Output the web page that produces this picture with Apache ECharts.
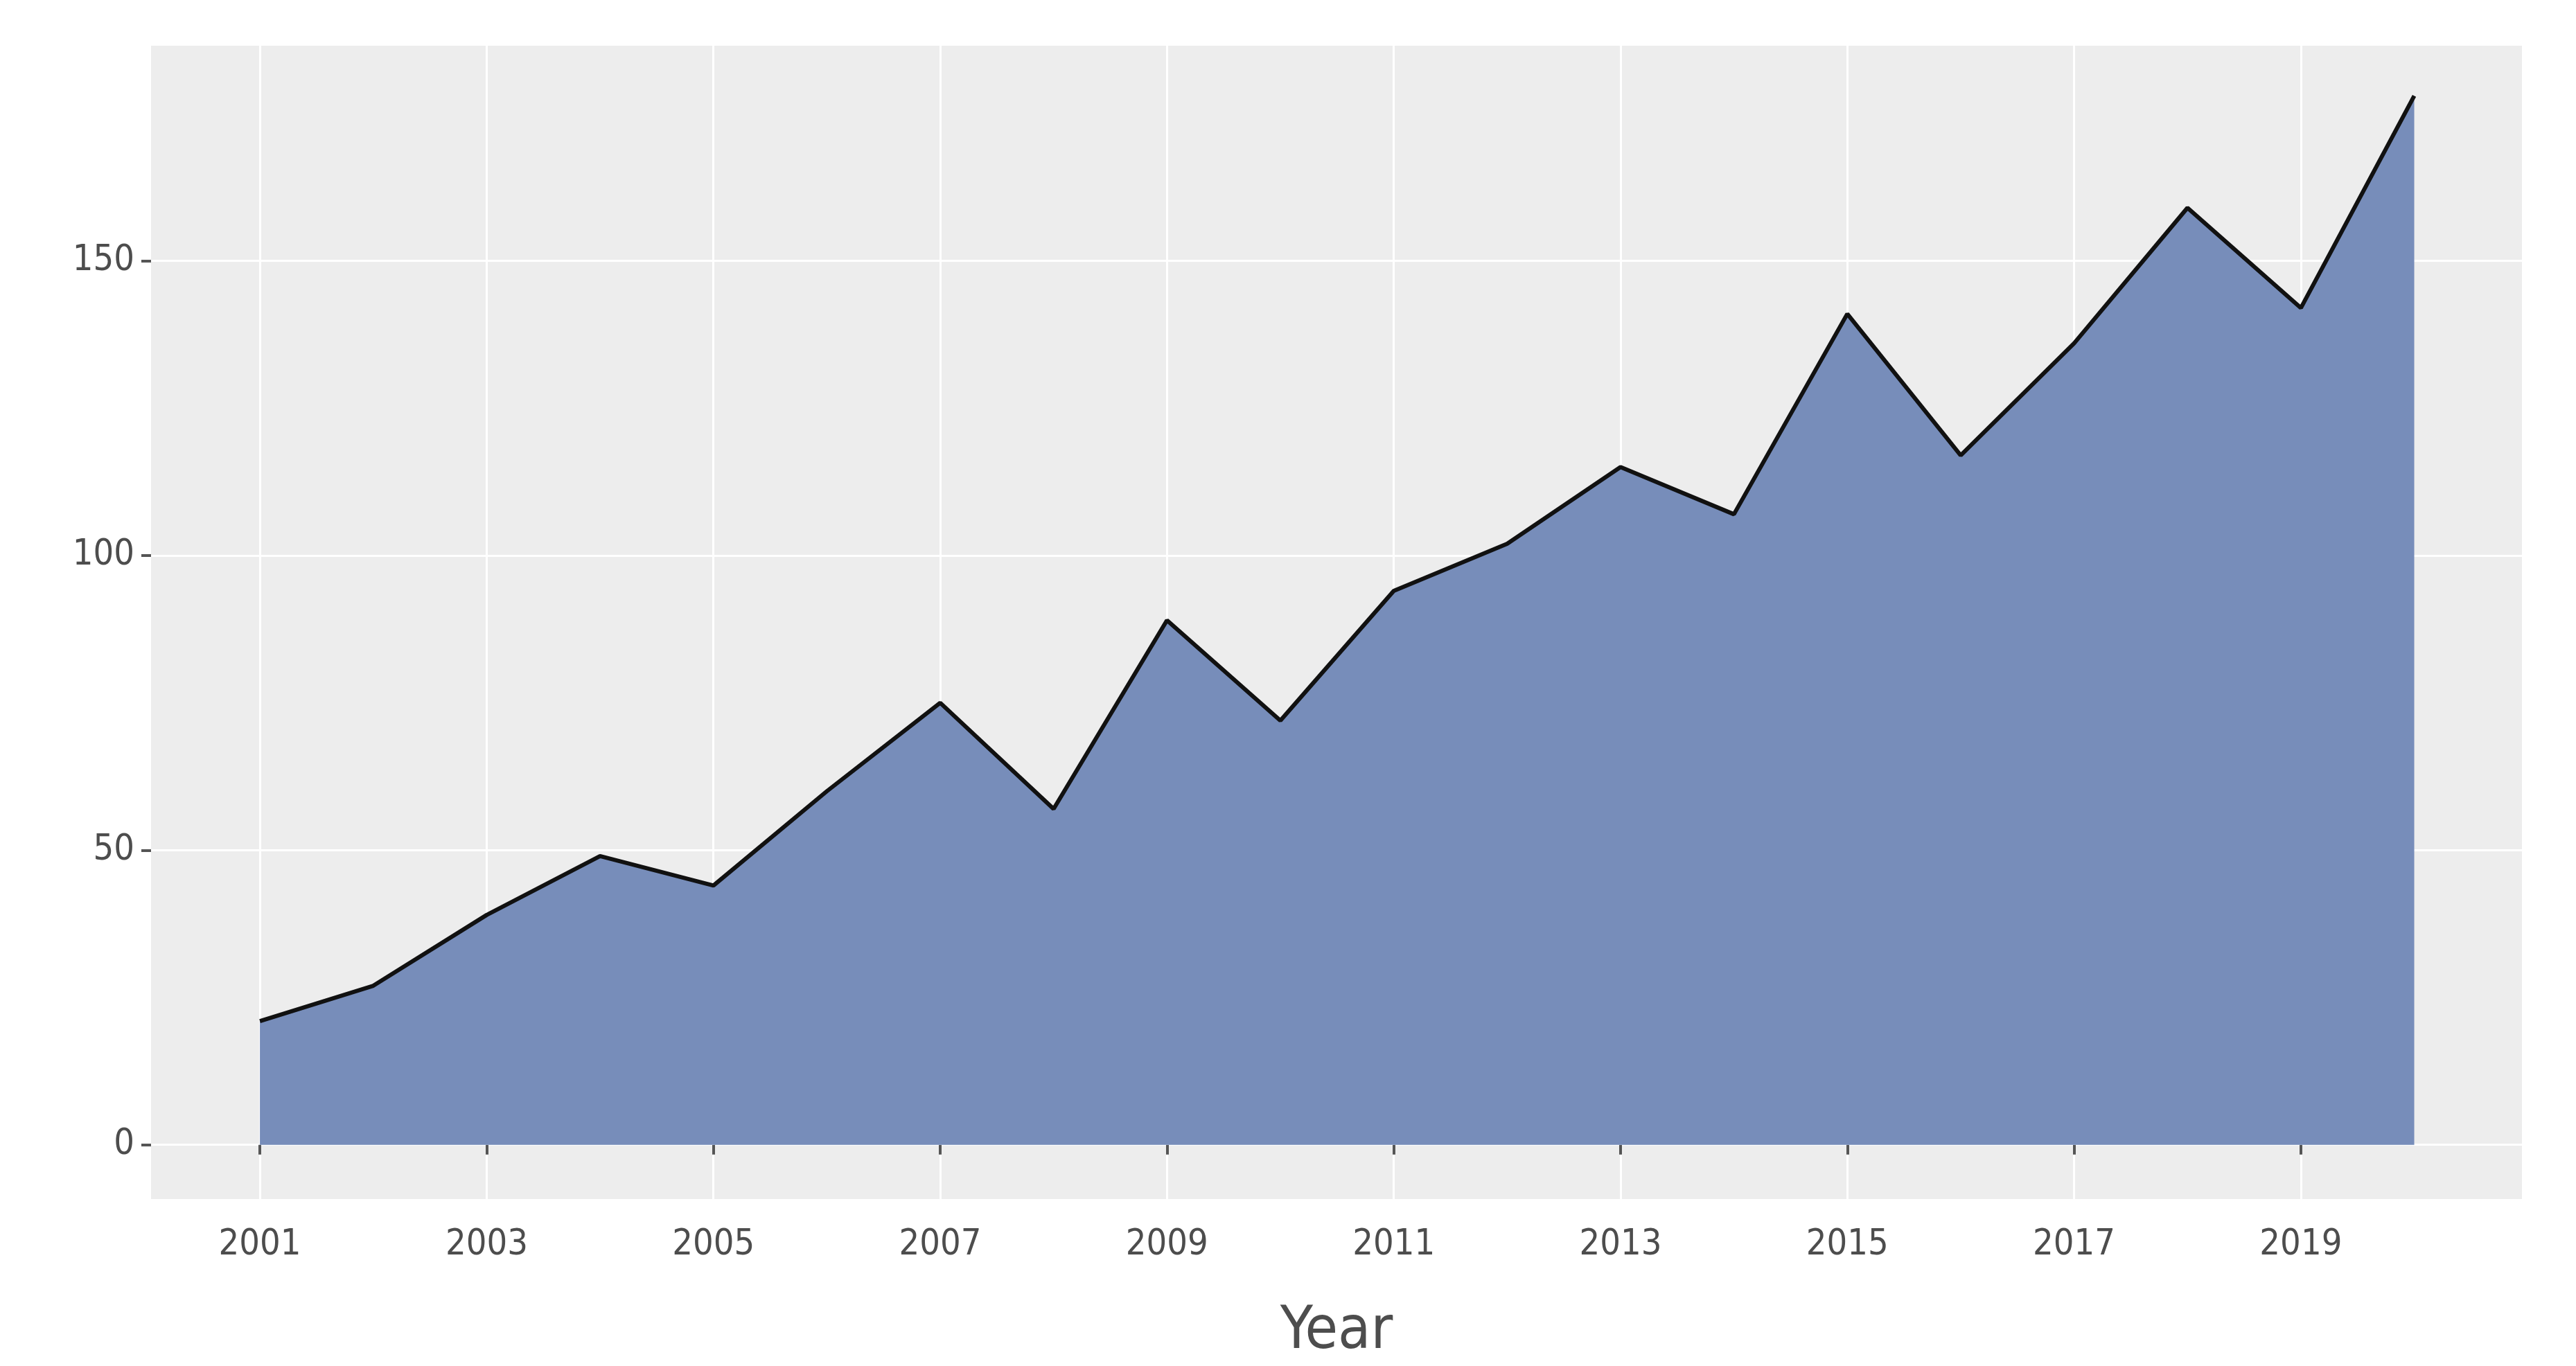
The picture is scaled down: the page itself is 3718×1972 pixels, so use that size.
<!DOCTYPE html>
<html><head><meta charset="utf-8">
<script src="https://cdn.jsdelivr.net/npm/echarts@6/dist/echarts.min.js"></script>
<style>html,body{margin:0;background:#fff}#c{width:3718px;height:1972px}</style>
</head><body><div id="c"></div>
<script>
const years = [2001,2002,2003,2004,2005,2006,2007,2008,2009,2010,2011,2012,2013,2014,2015,2016,2017,2018,2019,2020];
const values = [21,27,39,49,44,60,75,57,89,72,94,102,115,107,141,117,136,159,142,178];
const xTicks = [2001,2003,2005,2007,2009,2011,2013,2015,2017,2019];
const yTicks = [0,50,100,150];
const chart = echarts.init(document.getElementById('c'));
const font = 'DejaVu Sans Condensed';
chart.setOption({
  animation:false,
  grid:{left:218,right:78,top:66,bottom:241,show:true,backgroundColor:'#ededed',borderWidth:0},
  xAxis:{type:'value',min:2000.04,max:2020.95,name:'Year',nameLocation:'middle',nameGap:150,
    nameTextStyle:{fontSize:86,color:'#4d4d4d',fontFamily:font},
    axisLine:{show:false},
    axisTick:{show:true,length:14,lineStyle:{color:'#555',width:4},customValues:xTicks},
    axisLabel:{fontSize:52,color:'#4d4d4d',fontFamily:font,margin:40,customValues:xTicks,formatter:v=>String(v)},
    splitLine:{show:true,lineStyle:{color:'#ffffff',width:3}}},
  yAxis:{type:'value',min:-9.2,max:186.5,
    axisLine:{show:false},
    axisTick:{show:true,length:14,lineStyle:{color:'#555',width:4},customValues:yTicks},
    axisLabel:{fontSize:52,color:'#4d4d4d',fontFamily:font,margin:24,customValues:yTicks},
    splitLine:{show:true,lineStyle:{color:'#ffffff',width:3}}},
  series:[{type:'line',data:years.map((y,i)=>[y,values[i]]),symbol:'none',
    lineStyle:{color:'#111',width:6},
    areaStyle:{color:'#778dba',opacity:1,origin:0}}]
});
</script></body></html>
